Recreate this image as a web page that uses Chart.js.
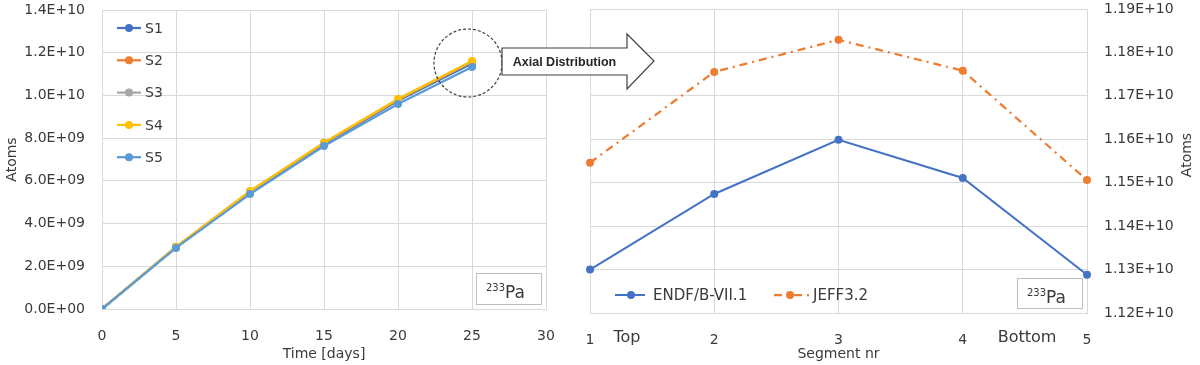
<!DOCTYPE html>
<html>
<head>
<meta charset="utf-8">
<script src="https://cdn.jsdelivr.net/npm/chart.js@4.4.0/dist/chart.umd.min.js"></script>
<style>
body { margin: 0; background: #fff; width: 1200px; height: 365px; overflow: hidden; position: relative; }
#left { position: absolute; left: 0; top: 0; width: 560px; height: 365px; }
#right { position: absolute; left: 560px; top: 0; width: 640px; height: 365px; }
svg { position: absolute; left: 0; top: 0; }
</style>
</head>
<body>
<div id="left"><canvas id="timeChart"></canvas></div>
<div id="right"><canvas id="segChart"></canvas></div>
<svg width="1200" height="365">
  <circle cx="468" cy="63" r="34" fill="none" stroke="#404040" stroke-width="1.2" stroke-dasharray="3 2"/>
  <polygon points="502,48 627,48 627,34 654,61 627,89 627,75 502,75" fill="#fff" stroke="#404040" stroke-width="1.2"/>
  <text x="564.5" y="65.5" text-anchor="middle" font-family="Liberation Sans" font-weight="bold" font-size="12.5" fill="#262626">Axial Distribution</text>
</svg>
<script>
// left chart: atoms vs time
const days = [0, 5, 10, 15, 20, 25];
const s1 = [0, 2.89e9, 5.48e9, 7.72e9, 9.75e9, 1.150e10];
const s2 = [0, 2.90e9, 5.50e9, 7.76e9, 9.80e9, 1.156e10];
const s3 = [0, 2.91e9, 5.51e9, 7.78e9, 9.82e9, 1.159e10];
const s4 = [0, 2.91e9, 5.52e9, 7.79e9, 9.83e9, 1.161e10];
const s5 = [0, 2.86e9, 5.38e9, 7.63e9, 9.60e9, 1.133e10];
const seriesNames = ['S1', 'S2', 'S3', 'S4', 'S5'];
const seriesColors = ['#4472C4', '#ED7D31', '#A5A5A5', '#FFC000', '#5B9BD5'];

// right chart: atoms per segment at day 25
const segments = ['1', '2', '3', '4', '5'];
const endf = [1.1300e10, 1.1474e10, 1.1599e10, 1.1511e10, 1.1288e10];
const jeff = [1.1546e10, 1.1755e10, 1.1829e10, 1.1758e10, 1.1506e10];

const txt = '#3a3a3a';
const gridCol = '#d9d9d9';
Chart.defaults.font.family = 'DejaVu Sans';
Chart.defaults.font.size = 14;
Chart.defaults.color = txt;

function sci(v, d) {
  const parts = Number(v).toExponential(d).split('e');
  const n = Math.abs(parseInt(parts[1]));
  return parts[0] + 'E' + (parts[1][0] === '-' ? '-' : '+') + String(n).padStart(2, '0');
}

function drawPa(ctx, x, y, w, h) {
  ctx.save();
  ctx.fillStyle = '#fff';
  ctx.fillRect(x, y, w, h);
  ctx.strokeStyle = '#bfbfbf';
  ctx.lineWidth = 1;
  ctx.strokeRect(x + 0.5, y + 0.5, w, h);
  ctx.fillStyle = txt;
  ctx.textBaseline = 'alphabetic';
  ctx.font = '10px DejaVu Sans';
  ctx.fillText('233', x + 10, y + 18);
  ctx.font = '17px DejaVu Sans';
  ctx.fillText('Pa', x + 29, y + 25);
  ctx.restore();
}

const leftExtras = {
  id: 'leftExtras',
  afterDraw(chart) {
    const ctx = chart.ctx;
    ctx.save();
    chart.data.datasets.forEach((ds, i) => {
      const y = 28 + i * 32.3;
      ctx.strokeStyle = ds.borderColor;
      ctx.lineWidth = 2.25;
      ctx.beginPath(); ctx.moveTo(117, y); ctx.lineTo(141, y); ctx.stroke();
      ctx.fillStyle = ds.borderColor;
      ctx.beginPath(); ctx.arc(129, y, 4, 0, Math.PI * 2); ctx.fill();
      ctx.fillStyle = txt;
      ctx.font = '14px DejaVu Sans';
      ctx.textBaseline = 'middle';
      ctx.fillText(ds.label, 145, y + 1);
    });
    ctx.restore();
    drawPa(ctx, 476, 273, 65, 31);
  }
};

const rightExtras = {
  id: 'rightExtras',
  afterDraw(chart) {
    const ctx = chart.ctx;
    ctx.save();
    // legend
    const ly = 295;
    ctx.lineWidth = 2;
    ctx.strokeStyle = '#4472C4';
    ctx.beginPath(); ctx.moveTo(55, ly); ctx.lineTo(85, ly); ctx.stroke();
    ctx.fillStyle = '#4472C4';
    ctx.beginPath(); ctx.arc(71, ly, 4, 0, Math.PI * 2); ctx.fill();
    ctx.strokeStyle = '#ED7D31';
    ctx.lineWidth = 2.25;
    ctx.setLineDash([8, 5, 2, 5]);
    ctx.beginPath(); ctx.moveTo(214, ly); ctx.lineTo(250, ly); ctx.stroke();
    ctx.setLineDash([]);
    ctx.fillStyle = '#ED7D31';
    ctx.beginPath(); ctx.arc(230, ly, 4, 0, Math.PI * 2); ctx.fill();
    ctx.fillStyle = txt;
    ctx.font = '15px DejaVu Sans';
    ctx.textBaseline = 'middle';
    ctx.fillText('ENDF/B-VII.1', 93, ly + 1);
    ctx.fillText('JEFF3.2', 253, ly + 1);
    // Top / Bottom
    ctx.font = '16px DejaVu Sans';
    ctx.textAlign = 'center';
    ctx.fillText('Top', 67, 338);
    ctx.fillText('Bottom', 467, 338);
    // right axis title, reading upward
    ctx.font = '14px DejaVu Sans';
    ctx.translate(627, 155);
    ctx.rotate(-Math.PI / 2);
    ctx.fillText('Atoms', 0, 0);
    ctx.restore();
    drawPa(ctx, 457, 278, 65, 30);
  }
};

const leftSeries = [s1, s2, s3, s4, s5];

// tick marks are invisible; their length only pushes labels away from the plot
new Chart(document.getElementById('timeChart'), {
  type: 'line',
  data: {
    datasets: leftSeries.map((vals, i) => ({
      label: seriesNames[i],
      data: days.map((d, j) => ({ x: d, y: vals[j] })),
      borderColor: seriesColors[i],
      backgroundColor: seriesColors[i],
      borderWidth: 2.25,
      pointRadius: 4,
      pointBorderWidth: 0,
      fill: false,
      order: 4 - i
    }))
  },
  options: {
    responsive: true,
    maintainAspectRatio: false,
    animation: false,
    layout: { padding: { top: 10, right: 14, left: 0, bottom: 0 } },
    plugins: { legend: { display: false }, tooltip: { enabled: false } },
    scales: {
      x: {
        type: 'linear',
        min: 0, max: 30,
        ticks: { stepSize: 5, padding: 0, color: txt },
        grid: { color: gridCol, tickLength: 19, tickColor: 'transparent' },
        border: { color: gridCol },
        title: { display: true, text: 'Time [days]', color: txt, padding: { top: 0, bottom: 2 } },
        afterFit(scale) { scale.height = 56; }
      },
      y: {
        min: 0, max: 1.4e10,
        ticks: { stepSize: 2e9, padding: 0, color: txt, callback: v => sci(v, 1) },
        grid: { color: gridCol, tickLength: 17, tickColor: 'transparent' },
        border: { color: gridCol },
        title: { display: true, text: 'Atoms', color: txt, padding: { top: 4, bottom: 0 } },
        afterFit(scale) { scale.width = 102; }
      }
    }
  },
  plugins: [leftExtras]
});

new Chart(document.getElementById('segChart'), {
  type: 'line',
  data: {
    labels: segments,
    datasets: [
      {
        label: 'ENDF/B-VII.1',
        data: endf,
        borderColor: '#4472C4',
        backgroundColor: '#4472C4',
        borderWidth: 2,
        pointRadius: 4,
        pointBorderWidth: 0,
        fill: false
      },
      {
        label: 'JEFF3.2',
        data: jeff,
        borderColor: '#ED7D31',
        backgroundColor: '#ED7D31',
        borderWidth: 2.25,
        borderDash: [8, 5, 2, 5],
        pointRadius: 4,
        pointBorderWidth: 0,
        fill: false
      }
    ]
  },
  options: {
    responsive: true,
    maintainAspectRatio: false,
    animation: false,
    layout: { padding: { top: 9, right: 0, left: 30, bottom: 0 } },
    plugins: { legend: { display: false }, tooltip: { enabled: false } },
    scales: {
      x: {
        ticks: { padding: 0, color: txt },
        grid: { color: gridCol, tickLength: 19, tickColor: 'transparent' },
        border: { color: gridCol },
        title: { display: true, text: 'Segment nr', color: txt, padding: { top: 0, bottom: 2 } },
        afterFit(scale) { scale.height = 52; }
      },
      y: {
        position: 'right',
        min: 1.12e10, max: 1.19e10,
        ticks: { stepSize: 1e8, padding: 0, color: txt, callback: v => sci(v, 2) },
        grid: { color: gridCol, tickLength: 17, tickColor: 'transparent' },
        border: { color: gridCol },
        afterFit(scale) { scale.width = 113; }
      }
    }
  },
  plugins: [rightExtras]
});
</script>
</body>
</html>
